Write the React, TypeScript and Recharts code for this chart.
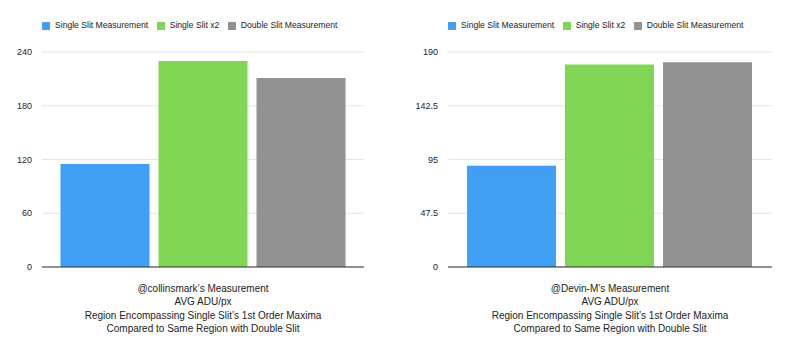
import React from 'react';
import { BarChart, Bar, XAxis, YAxis, CartesianGrid, Legend } from 'recharts';

const seriesNames = ['Single Slit Measurement', 'Single Slit x2', 'Double Slit Measurement'];
const seriesKeys = ['single', 'singleX2', 'double'];
const seriesColors = ['#419ff5', '#80d654', '#929292'];

const leftValues = [115, 230, 211];
const rightValues = [89.5, 179, 181];

const leftTicks = [0, 60, 120, 180, 240];
const rightTicks = [0, 47.5, 95, 142.5, 190];

const leftTitle = [
  '@collinsmark\u2019s Measurement',
  'AVG ADU/px',
  'Region Encompassing Single Slit\u2019s 1st Order Maxima',
  'Compared to Same Region with Double Slit',
];
const rightTitle = [
  '@Devin-M\u2019s Measurement',
  'AVG ADU/px',
  'Region Encompassing Single Slit\u2019s 1st Order Maxima',
  'Compared to Same Region with Double Slit',
];

const FONT = '"Liberation Sans", Arial, Helvetica, sans-serif';

function buildRow(title: string[], values: number[]) {
  const row: any = { name: title.join('|') };
  seriesKeys.forEach((k, i) => {
    row[k] = values[i];
  });
  return [row];
}

const TitleTick = (props: any) => {
  const { x, y, payload } = props;
  const lines: string[] = String(payload.value).split('|');
  return (
    <g>
      <text x={x} y={y} textAnchor="middle" fill="#222" fontSize={10} fontFamily={FONT}>
        {lines.map((l, i) => (
          <tspan key={i} x={x} dy={i === 0 ? 24.5 : 13.65}>
            {l}
          </tspan>
        ))}
      </text>
    </g>
  );
};

const makeLegend = (padLeft: number) => () => (
  <div style={{ height: 42, boxSizing: 'border-box', paddingLeft: padLeft, paddingTop: 10, margin: 0 }}>
    <div style={{ display: 'flex', alignItems: 'center', height: 11 }}>
      {seriesNames.map((n, i) => (
        <div key={n} style={{ display: 'flex', alignItems: 'center', marginRight: 8.5 }}>
          <div style={{ width: 8, height: 8, background: seriesColors[i], marginRight: 5 }} />
          <span style={{ fontSize: 8.6, fontFamily: FONT, color: '#222', lineHeight: '11px', whiteSpace: 'nowrap' }}>{n}</span>
        </div>
      ))}
    </div>
  </div>
);

type PanelProps = {
  values: number[];
  ticks: number[];
  title: string[];
  yWidth: number;
  marginRight: number;
  catGap: number;
};

const Panel = ({ values, ticks, title, yWidth, marginRight, catGap }: PanelProps) => {
  const data = buildRow(title, values);
  return (
    <BarChart
      width={400}
      height={351}
      data={data}
      margin={{ top: 10, right: marginRight, left: 0, bottom: 14 }}
      barCategoryGap={catGap}
      barGap={9}
    >
      <CartesianGrid horizontal vertical={false} stroke="#e4e4e4" strokeWidth={1} />
      <Legend verticalAlign="top" align="left" content={makeLegend(yWidth)} />
      <XAxis
        dataKey="name"
        height={70}
        tickLine={false}
        tickSize={0}
        tickMargin={0}
        axisLine={{ stroke: '#333', strokeWidth: 1 }}
        tick={<TitleTick />}
        interval={0}
      />
      <YAxis
        width={yWidth}
        domain={[0, ticks[ticks.length - 1]]}
        ticks={ticks}
        tickLine={false}
        axisLine={false}
        tickMargin={4}
        tick={{ fontSize: 9, fill: '#222', fontFamily: FONT }}
        interval={0}
      />
      {seriesKeys.map((k, i) => (
        <Bar key={k} dataKey={k} name={seriesNames[i]} fill={seriesColors[i]} isAnimationActive={false} />
      ))}
    </BarChart>
  );
};

export default function App() {
  return (
    <div style={{ position: 'absolute', left: 0, top: 0, width: 800, height: 351, background: '#fff', display: 'flex' }}>
      <Panel values={leftValues} ticks={leftTicks} title={leftTitle} yWidth={42} marginRight={36} catGap={18.5} />
      <Panel values={rightValues} ticks={rightTicks} title={rightTitle} yWidth={48} marginRight={28} catGap={19} />
    </div>
  );
}
